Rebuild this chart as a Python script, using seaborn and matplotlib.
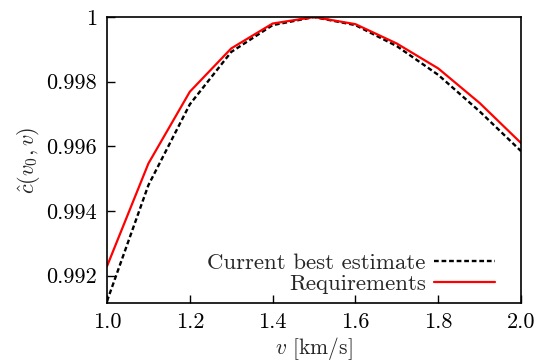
import numpy as np
import pandas as pd
import matplotlib
matplotlib.use("Agg")
import matplotlib.pyplot as plt
import seaborn as sns
from matplotlib.ticker import FuncFormatter

v = [1.0, 1.1, 1.2, 1.3, 1.4, 1.5, 1.6, 1.7, 1.8, 1.9, 2.0]
best_estimate = [0.99121, 0.99480, 0.99730, 0.99892, 0.99975, 1.0, 0.99975, 0.99910, 0.99821, 0.99708, 0.99585]
requirements = [0.99229, 0.99547, 0.99769, 0.99903, 0.99980, 1.0, 0.99978, 0.99918, 0.99841, 0.99734, 0.99610]

sns.set_style("white")
plt.rcParams["font.family"] = ["serif"]
plt.rcParams["font.serif"] = ["cmr10", "DejaVu Serif"]
plt.rcParams["mathtext.fontset"] = "cm"
plt.rcParams["axes.formatter.use_mathtext"] = True

fig = plt.figure(figsize=(5.35, 3.63), dpi=100)
ax = fig.add_axes([0.2, 0.165, 0.774, 0.788])

df1 = pd.DataFrame({"v": v, "c": best_estimate})
df2 = pd.DataFrame({"v": v, "c": requirements})
sns.lineplot(data=df1, x="v", y="c", ax=ax, color="black", linestyle=(0, (2.0, 1.2)),
             linewidth=1.7, label="Current best estimate")
sns.lineplot(data=df2, x="v", y="c", ax=ax, color="#ff0000", linewidth=1.6,
             label="Requirements")

ax.set_xlim(1.0, 2.0)
ax.set_ylim(0.99115, 1.0)
ax.set_xticks([1.0, 1.2, 1.4, 1.6, 1.8, 2.0])
ax.set_yticks([0.992, 0.994, 0.996, 0.998, 1.0])
ax.xaxis.set_major_formatter(FuncFormatter(lambda x, p: f"{x:.1f}"))
ax.yaxis.set_major_formatter(FuncFormatter(lambda y, p: "1" if abs(y - 1) < 1e-9 else f"{y:.3f}"))
ax.tick_params(direction="in", length=6, width=1, labelsize=16, colors="black",
               bottom=True, left=True, top=False, right=False, pad=7)
for s in ax.spines.values():
    s.set_color("black")
    s.set_linewidth(1.2)

ax.set_xlabel(r"$v$ [km/s]", fontsize=15.5, labelpad=2)
ax.set_ylabel(r"$\hat{c}(v_0, v)$", fontsize=16, labelpad=3)

leg = ax.legend(loc="lower right", frameon=False, markerfirst=False, fontsize=16.5,
                handlelength=2.66, handletextpad=0.35, borderaxespad=0.3, labelspacing=0.05,
                bbox_to_anchor=(0.975, -0.025))

fig.savefig("out.png", dpi=100)
